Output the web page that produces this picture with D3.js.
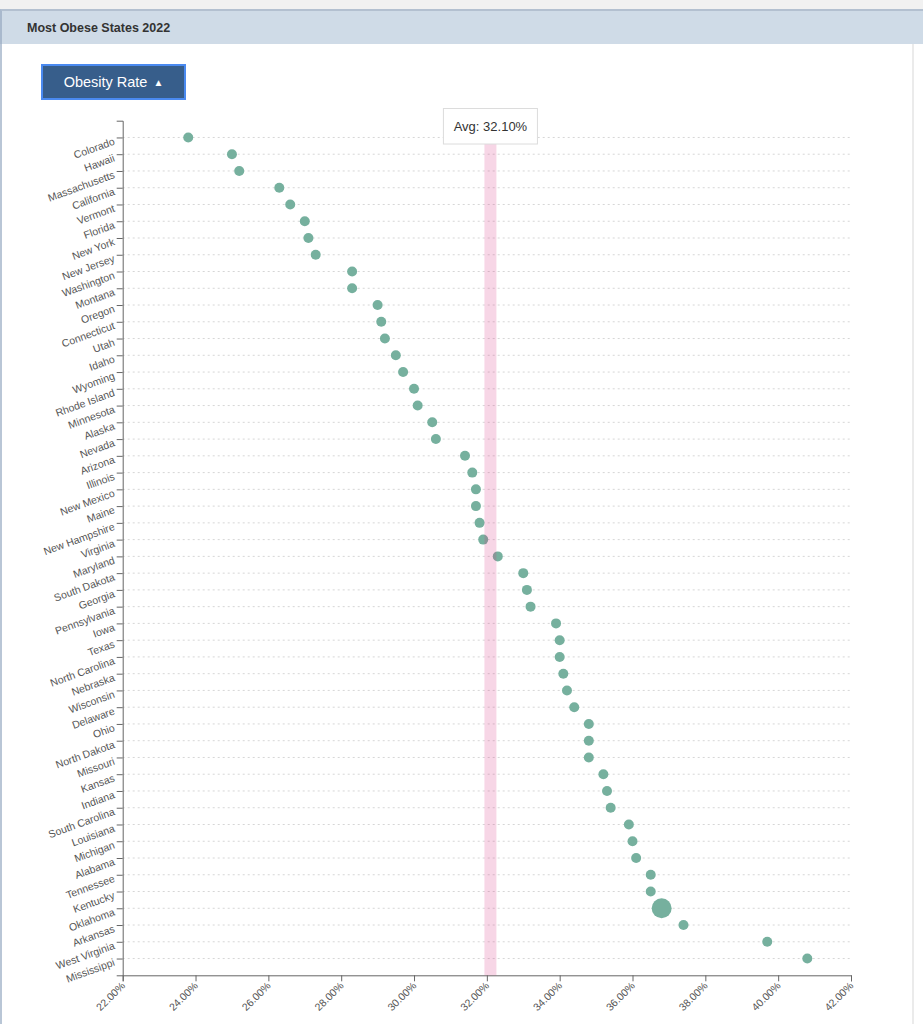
<!DOCTYPE html>
<html>
<head>
<meta charset="utf-8">
<script src="https://cdn.jsdelivr.net/npm/d3@7"></script>
<style>
  body { margin: 0; background: #fff; font-family: Arial, "Liberation Sans", Helvetica, sans-serif; }
  #topstrip { position: absolute; left: 0; top: 0; width: 923px; height: 9px; background: #f1f1f1; }
  #header { position: absolute; left: 0; top: 9px; width: 923px; height: 35px; background: #cfdbe7;
            border-top: 2px solid #b3c0d0; border-left: 2px solid #a9b9cd; box-sizing: border-box; }
  #header span { position: absolute; left: 25px; top: 10px; font-size: 12.5px; font-weight: bold; color: #333; }
  #leftborder { position: absolute; left: 0; top: 44px; width: 2px; height: 980px; background: #b9c6d6; }
  #rightborder { position: absolute; left: 912px; top: 44px; width: 2px; height: 980px; background: #ebebeb; }
  #btn { position: absolute; left: 41px; top: 64px; width: 145px; height: 36px; box-sizing: border-box;
         background: #375e8b; border: 2px solid #4a8af0; color: #fff; font-size: 14.5px;
         display: flex; align-items: center; justify-content: center; }
  #btn .arr { font-size: 10px; margin-left: 6px; }
  #chart { position: absolute; left: 0; top: 0; }
</style>
</head>
<body>
<div id="topstrip"></div>
<div id="header"><span>Most Obese States 2022</span></div>
<div id="leftborder"></div>
<div id="rightborder"></div>
<div id="btn">Obesity Rate<span class="arr">▲</span></div>
<svg id="chart" width="923" height="1024"></svg>
<script>
// ---- DATA ----
const states = [
  "Colorado", "Hawaii", "Massachusetts", "California", "Vermont", "Florida",
  "New York", "New Jersey", "Washington", "Montana", "Oregon", "Connecticut",
  "Utah", "Idaho", "Wyoming", "Rhode Island", "Minnesota", "Alaska", "Nevada",
  "Arizona", "Illinois", "New Mexico", "Maine", "New Hampshire", "Virginia",
  "Maryland", "South Dakota", "Georgia", "Pennsylvania", "Iowa", "Texas",
  "North Carolina", "Nebraska", "Wisconsin", "Delaware", "Ohio", "North Dakota",
  "Missouri", "Kansas", "Indiana", "South Carolina", "Louisiana", "Michigan",
  "Alabama", "Tennessee", "Kentucky", "Oklahoma", "Arkansas", "West Virginia",
  "Mississippi"
];
const rates = [
  23.8, 25.0, 25.2, 26.3, 26.6, 27.0,
  27.1, 27.3, 28.3, 28.3, 29.0, 29.1,
  29.2, 29.5, 29.7, 30.0, 30.1, 30.5, 30.6,
  31.4, 31.6, 31.7, 31.7, 31.8, 31.9,
  32.3, 33.0, 33.1, 33.2, 33.9, 34.0,
  34.0, 34.1, 34.2, 34.4, 34.8, 34.8,
  34.8, 35.2, 35.3, 35.4, 35.9, 36.0,
  36.1, 36.5, 36.5, 36.8, 37.4, 39.7,
  40.8
];
const xTicks = [22, 24, 26, 28, 30, 32, 34, 36, 38, 40, 42];
const hovered = "Oklahoma";

const data = states.map((s, i) => ({ state: s, rate: rates[i] }));
const avg = d3.mean(rates);

// ---- LAYOUT ----
const margin = { top: 120.7, left: 122.7 };
const width = 851 - margin.left;
const height = 975.3 - margin.top;

const svg = d3.select("#chart");
const g = svg.append("g")
  .attr("transform", `translate(${margin.left},${margin.top})`);

// ---- SCALES ----
const x = d3.scaleLinear().domain([22, 42]).range([0, width]);
const y = d3.scalePoint().domain(states).range([0, height]).padding(1);

// ---- GRID ----
g.append("g")
  .selectAll("line")
  .data(states)
  .join("line")
  .attr("x1", 0)
  .attr("x2", width)
  .attr("y1", d => y(d))
  .attr("y2", d => y(d))
  .attr("stroke", "#d6d6d6")
  .attr("stroke-width", 1)
  .attr("stroke-dasharray", "2,3");

// ---- AXES ----
const xAxis = g.append("g")
  .attr("transform", `translate(0,${height})`)
  .call(d3.axisBottom(x).tickValues(xTicks).tickFormat(d => d.toFixed(2) + "%").tickSizeOuter(6));
xAxis.selectAll("text")
  .attr("x", -6)
  .attr("y", 6)
  .attr("dy", "0.35em")
  .attr("transform", "rotate(-45)")
  .style("text-anchor", "end");

const yAxis = g.append("g")
  .call(d3.axisLeft(y).tickSizeOuter(6));
yAxis.selectAll("text")
  .attr("transform", "rotate(-20)");

[xAxis, yAxis].forEach(a => {
  a.selectAll("path, line").attr("stroke", "#666");
  a.selectAll("text")
    .attr("fill", "#555")
    .style("font-size", "10.5px")
    .style("font-family", "Arial, 'Liberation Sans', sans-serif");
});

// ---- DOTS ----
g.append("g")
  .selectAll("circle")
  .data(data)
  .join("circle")
  .attr("cx", d => x(d.rate))
  .attr("cy", d => y(d.state))
  .attr("r", d => d.state === hovered ? 10 : 5)
  .attr("fill", "#76b09e");

// ---- AVERAGE BAND ----
g.append("rect")
  .attr("x", x(avg) - 6)
  .attr("y", 0)
  .attr("width", 12)
  .attr("height", height)
  .attr("fill", "rgb(214,51,132)")
  .attr("fill-opacity", 0.2);

const tip = g.append("g")
  .attr("transform", `translate(${x(avg)},${108.5 - margin.top})`);
tip.append("rect")
  .attr("x", -47)
  .attr("y", 0)
  .attr("width", 94)
  .attr("height", 35.5)
  .attr("fill", "#fff")
  .attr("stroke", "#dcdcdc");
tip.append("text")
  .attr("x", 0)
  .attr("y", 22.5)
  .attr("text-anchor", "middle")
  .attr("fill", "#333")
  .style("font-size", "13px")
  .text(`Avg: ${avg.toFixed(2)}%`);
</script>
</body>
</html>
